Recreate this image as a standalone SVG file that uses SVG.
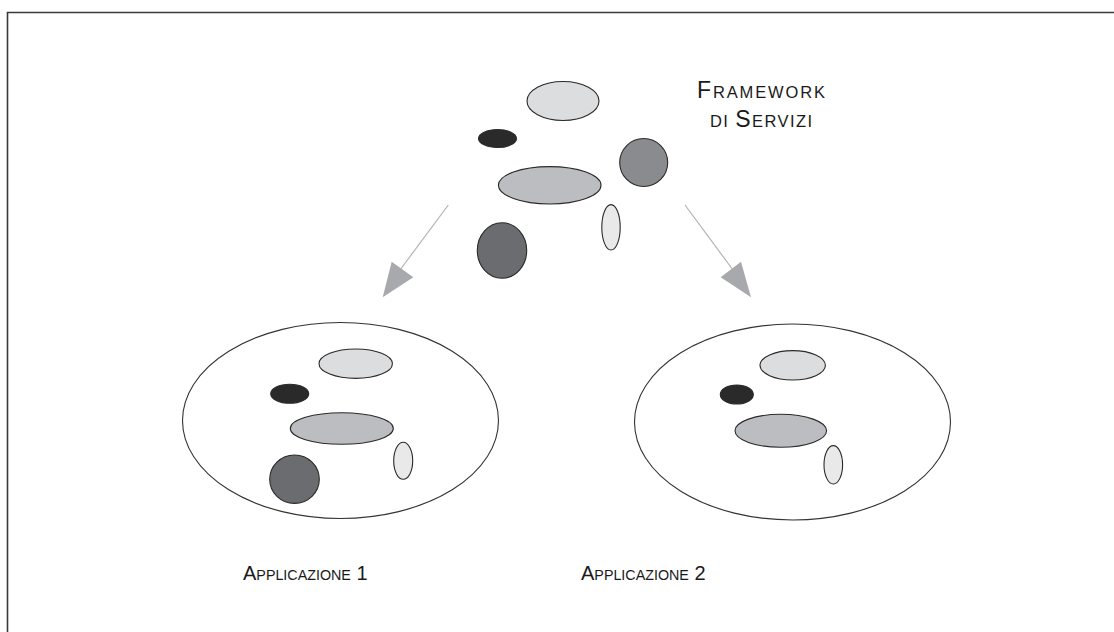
<svg xmlns="http://www.w3.org/2000/svg" width="1114" height="632" viewBox="0 0 1114 632">
  <style>
    .frame { fill: none; stroke: #3a3a3a; stroke-width: 1.6; }
    .app { fill: #ffffff; stroke: #333333; stroke-width: 1.1; }
    .svc { stroke: #2a2a2a; stroke-width: 1.1; }
    .light { fill: #dcddde; }
    .pale { fill: #e9e9ea; }
    .mid { fill: #bcbdc0; }
    .grey { fill: #8a8b8e; }
    .dark { fill: #6b6c70; }
    .black { fill: #2a2a2a; }
    .conn { stroke: #b3b3b3; stroke-width: 1.2; fill: none; }
    .head { fill: #a7a9ac; }
    .lbl { font-family: "Liberation Sans", Arial, sans-serif; fill: #1a1a1a; }
    .big { font-size: 23px; }
    .sc { font-size: 16.5px; }
    .abig { font-size: 20px; }
    .asc { font-size: 14.3px; }
  </style>

  <rect width="1114" height="632" fill="#ffffff"/>
  <!-- outer frame (open to the right and bottom) -->
  <path class="frame" d="M7.5,632 V12.5 H1114"/>

  <!-- service framework -->
  <g id="framework">
    <ellipse class="svc light" cx="563" cy="101" rx="36" ry="19.5"/>
    <ellipse class="svc black" cx="497.5" cy="138.5" rx="19" ry="9"/>
    <ellipse class="svc grey" cx="643.7" cy="162.5" rx="24" ry="24"/>
    <ellipse class="svc mid" cx="549.7" cy="185.3" rx="51.3" ry="18.7"/>
    <ellipse class="svc pale" cx="611" cy="227.3" rx="9.2" ry="22.7"/>
    <ellipse class="svc dark" cx="502" cy="250.5" rx="24.7" ry="27.8"/>
    <text class="lbl" x="697" y="98.3" textLength="128" lengthAdjust="spacing"><tspan class="big">F</tspan><tspan class="sc">RAMEWORK</tspan></text>
    <text class="lbl" x="710" y="126.7" textLength="102" lengthAdjust="spacing"><tspan class="sc">DI </tspan><tspan class="big">S</tspan><tspan class="sc">ERVIZI</tspan></text>
  </g>

  <!-- application 1 -->
  <g id="app1">
    <ellipse class="app" cx="340.5" cy="420.5" rx="158" ry="98"/>
    <ellipse class="svc light" cx="355.7" cy="363.7" rx="36.7" ry="14.7"/>
    <ellipse class="svc black" cx="289.7" cy="393.8" rx="19" ry="9.5"/>
    <ellipse class="svc mid" cx="341.8" cy="428.5" rx="51.5" ry="15.8"/>
    <ellipse class="svc pale" cx="403.2" cy="460.8" rx="9.5" ry="18.5"/>
    <ellipse class="svc dark" cx="294.5" cy="479.2" rx="24.8" ry="24.2"/>
    <text class="lbl" x="243" y="580"><tspan class="abig">A</tspan><tspan class="asc">PPLICAZIONE</tspan><tspan class="abig"> 1</tspan></text>
  </g>

  <!-- application 2 -->
  <g id="app2">
    <ellipse class="app" cx="792.5" cy="422" rx="158" ry="98"/>
    <ellipse class="svc light" cx="792.7" cy="365.3" rx="32.7" ry="14.7"/>
    <ellipse class="svc black" cx="736.8" cy="394.5" rx="16.5" ry="9.5"/>
    <ellipse class="svc mid" cx="780.8" cy="430.8" rx="45.8" ry="16.5"/>
    <ellipse class="svc pale" cx="833.3" cy="464.8" rx="9.3" ry="19.2"/>
    <text class="lbl" x="581" y="580"><tspan class="abig">A</tspan><tspan class="asc">PPLICAZIONE</tspan><tspan class="abig"> 2</tspan></text>
  </g>

  <!-- connectors -->
  <g id="connectors">
    <line class="conn" x1="448.3" y1="205" x2="400" y2="270"/>
    <polygon class="head" points="382.7,297.3 391.7,261.7 413.3,277.3"/>
    <line class="conn" x1="685" y1="205" x2="733" y2="270"/>
    <polygon class="head" points="751,297.3 720.7,277.3 741,261.7"/>
  </g>
</svg>
